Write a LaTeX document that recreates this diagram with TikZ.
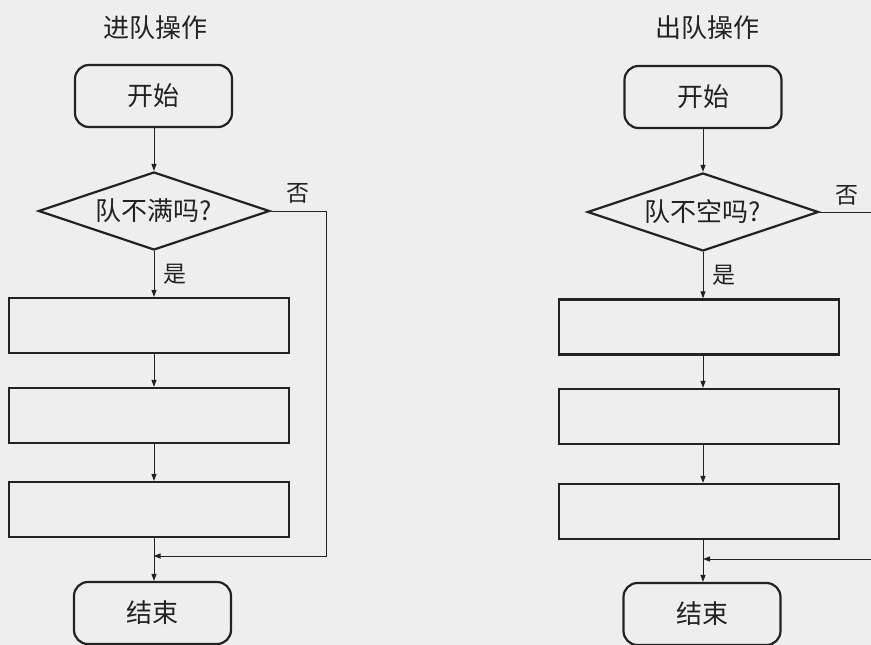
\documentclass[tikz,border=0pt]{standalone}
\usepackage{fontspec}
\newfontfamily\cjk{Noto Sans CJK SC}
\usetikzlibrary{shapes.geometric,arrows.meta}
\definecolor{bgc}{HTML}{EEEEEE}
\definecolor{ink}{HTML}{222222}
\tikzset{
  txt/.style={font=\cjk\fontsize{26}{28}\selectfont, text=ink},
  title/.style={txt},
  term/.style={draw=ink, line width=2.2pt, rounded corners=14pt, minimum width=157pt, minimum height=62pt, txt},
  decide/.style={draw=ink, line width=2.2pt, diamond, shape aspect=3, inner sep=0pt, minimum width=231pt, minimum height=78pt, txt},
  procbox/.style={draw=ink, line width=2.2pt, minimum width=280pt, minimum height=55pt, inner sep=0pt},
  arr/.style={draw=ink, line width=1pt, -{Triangle[length=7pt,width=5pt]}},
  lbl/.style={txt, font=\cjk\fontsize{23}{25}\selectfont}
}
\begin{document}
\begin{tikzpicture}[x=1pt,y=-1pt]
\fill[bgc] (0,0) rectangle (871,645);
\useasboundingbox (0,0) rectangle (871,645);
\clip (0,0) rectangle (871,645);

% ---------- left chart ----------
\node[title] (Lt) at (155,28) {进队操作};
\node[term] (Ls) at (153.5,96) {开始};
\node[decide] (Ld) at (154,211) {队不满吗?};
\node[procbox] (Lb1) at (149,325.5) {};
\node[procbox] (Lb2) at (149,415.5) {};
\node[procbox] (Lb3) at (149,509.5) {};
\node[term] (Le) at (152.5,613) {结束};
\coordinate (Lm) at (153.5,556);
\coordinate (Lr) at (326,556);

\draw[arr] (Ls.south -| Ld.north) -- (Ld.north);
\draw[arr] (Ld.south) -- node[lbl, right, xshift=6pt] {是} (Ld.south |- Lb1.north);
\draw[arr] (Ld.south |- Lb1.south) -- (Ld.south |- Lb2.north);
\draw[arr] (Ld.south |- Lb2.south) -- (Ld.south |- Lb3.north);
\draw[arr] (Ld.south |- Lb3.south) -- (Ld.south |- Le.north);
\draw[arr] (Ld.east) -- node[lbl, pos=0.5, above, yshift=4pt] {否} (Ld.east -| Lr) -- (Lr) -- (Lm);

% ---------- right chart ----------
\node[title] (Rt) at (707,28) {出队操作};
\node[term] (Rs) at (703,97) {开始};
\node[decide] (Rd) at (703,212) {队不空吗?};
\node[procbox] (Rb1) at (699,327) {};
\node[procbox] (Rb2) at (699,416.5) {};
\node[procbox] (Rb3) at (699,511.5) {};
\node[term] (Re) at (702,614) {结束};
\coordinate (Rm) at (703,559);
\coordinate (Rr) at (900,559);

\draw[arr] (Rs.south -| Rd.north) -- (Rd.north);
\draw[arr] (Rd.south) -- node[lbl, right, xshift=6pt] {是} (Rd.south |- Rb1.north);
\draw[arr] (Rd.south |- Rb1.south) -- (Rd.south |- Rb2.north);
\draw[arr] (Rd.south |- Rb2.south) -- (Rd.south |- Rb3.north);
\draw[arr] (Rd.south |- Rb3.south) -- (Rd.south |- Re.north);
\draw[line width=1pt, draw=ink] (Rd.east) -- (Rd.east -| Rr) -- (Rr);
\node[lbl] (Rno) at (847,195) {否};
\draw[arr] (Rr) -- (Rm);
\end{tikzpicture}
\end{document}
